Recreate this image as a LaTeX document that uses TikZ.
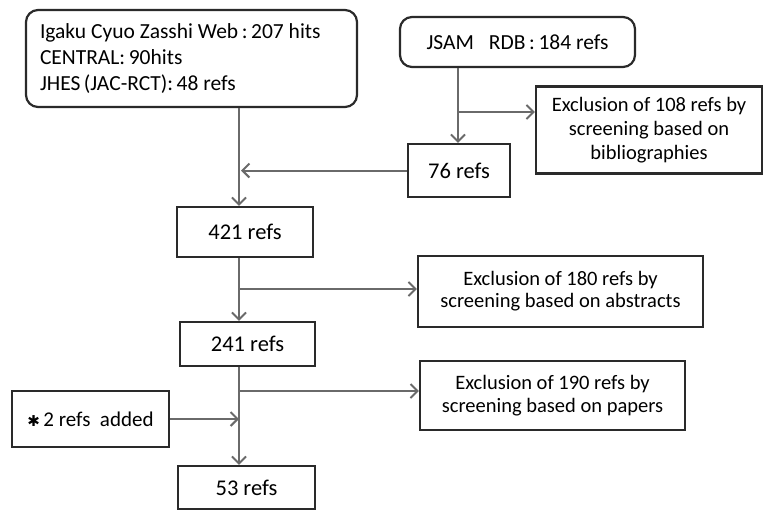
\documentclass[tikz,border=0pt]{standalone}
\usepackage{fontspec}
\setmainfont{Carlito}
\newfontfamily\symfont{DejaVu Sans}
\usetikzlibrary{arrows.meta}

\definecolor{boxline}{HTML}{2A2A2A}
\definecolor{flowline}{HTML}{6A6A6A}

\tikzset{
    refbox/.style={draw=boxline, line width=2.2pt, align=center, inner sep=2pt,
        font=\fontsize{22.5}{26}\selectfont},
    exbox/.style={refbox, font=\fontsize{20.5}{24}\selectfont},
    srcbox/.style={refbox, rounded corners=12pt},
    flow/.style={draw=flowline, line width=2pt,
        -{Straight Barb[length=7pt,width=14pt,line width=2pt]}},
}

\begin{document}
\begin{tikzpicture}[x=1pt, y=-1pt]
            \useasboundingbox (0,0) rectangle (765,512);
            % sources
            \node[srcbox, minimum width=331pt, minimum height=97pt, text width=303pt, align=flush left,
                font=\fontsize{21.5}{26}\selectfont] (src) at (191.5,58.5)
                {Igaku Cyuo Zasshi Web\,:\,207 hits\\CENTRAL:\,90hits\\JHES\,(JAC-RCT):\,48 refs};
            \node[srcbox, minimum width=235pt, minimum height=50pt, font=\fontsize{21.5}{26}\selectfont]
                (jsam) at (517.5,42) {JSAM\hspace{0.7em}RDB\,:\,184 refs};
            % boxes
            \node[exbox, minimum width=226pt, minimum height=87pt] (ex108) at (649,130)
                {Exclusion of 108 refs by\\screening based on\\bibliographies};
            \node[refbox, minimum width=102pt, minimum height=53pt] (r76) at (459,170.5) {76 refs};
            \node[refbox, minimum width=136pt, minimum height=50pt] (r421) at (245,232) {421 refs};
            \node[exbox, minimum width=285pt, minimum height=71pt, font=\fontsize{20.5}{22}\selectfont]
                (ex180) at (560.5,291.5) {Exclusion of 180 refs by\\screening based on abstracts};
            \node[refbox, minimum width=135pt, minimum height=44pt] (r241) at (247.5,344) {241 refs};
            \node[exbox, minimum width=265pt, minimum height=69pt, font=\fontsize{20.5}{23}\selectfont]
                (ex190) at (552.5,395.5) {Exclusion of 190 refs by\\screening based on papers};
            \node[refbox, minimum width=157pt, minimum height=56pt, font=\fontsize{21}{24}\selectfont]
                (added) at (90.5,419) {{\symfont\fontsize{15}{15}\selectfont ✱}\,2 refs\hspace{0.45em}added};
            \node[refbox, minimum width=137pt, minimum height=43pt] (r53) at (246.5,487.5) {53 refs};

            % branch points
            \coordinate (main) at (239,0);
            \coordinate (b1) at (458,112);
            \coordinate (b2) at (239,289);
            \coordinate (b3) at (239,391);

            % connectors
            \draw[flow] (src.south -| main) -- (r421.north -| main);
            \draw[flow] (jsam.south -| b1) -- (r76.north -| b1);
            \draw[flow] (b1) -- (ex108.west |- b1);
            \draw[flow] (r76.west) -- ([xshift=2pt]main |- r76.west);
            \draw[flow] (r421.south -| main) -- (r241.north -| main);
            \draw[flow] (b2) -- (ex180.west |- b2);
            \draw[flow] (r241.south -| main) -- (r53.north -| main);
            \draw[flow] (b3) -- (ex190.west |- b3);
            \draw[flow] (added.east) -- (main |- added.east);
        \end{tikzpicture}
\end{document}
